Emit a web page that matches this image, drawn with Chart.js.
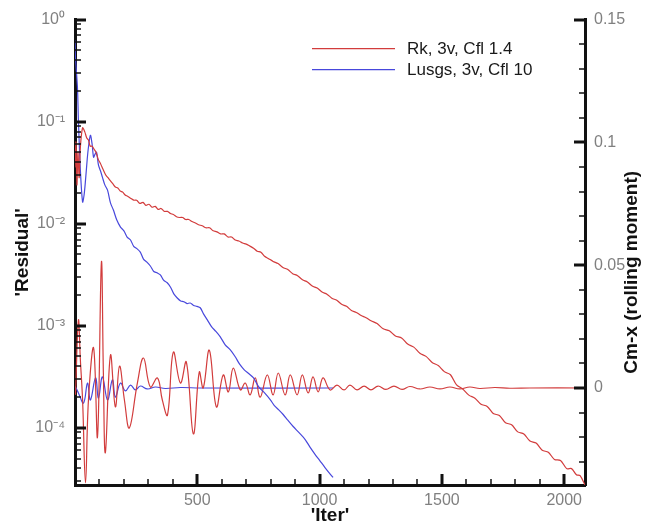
<!DOCTYPE html>
<html>
<head>
<meta charset="utf-8">
<script src="https://cdn.jsdelivr.net/npm/chart.js@4.4.0/dist/chart.umd.min.js"></script>
<style>
  html, body { margin: 0; padding: 0; background: #fff; }
  #wrap { width: 660px; height: 525px; }
</style>
</head>
<body>
<div id="wrap"><canvas id="residChart" width="660" height="525"></canvas></div>
<script>
// --- residual histories (left, log axis) ---
const rkIter = [0, 4, 8, 12, 17, 22, 31, 40, 48, 55, 62, 70, 78, 86, 95, 104, 115, 125, 135, 145,
    155, 165, 175, 185, 195, 205, 215, 227, 240, 252, 265, 278, 290, 302, 315, 328, 340, 352, 365, 378,
    390, 402, 415, 428, 440, 452, 465, 478, 490, 505, 520, 535, 550, 565, 580, 595, 610, 625, 640, 655,
    670, 685, 700, 715, 730, 745, 760, 775, 790, 810, 830, 850, 870, 890, 910, 930, 950, 970, 990, 1010,
    1030, 1050, 1070, 1090, 1110, 1130, 1150, 1170, 1190, 1210, 1235, 1260, 1285, 1310, 1335, 1360, 1385, 1410, 1435, 1460,
    1485, 1510, 1535, 1560, 1585, 1610, 1635, 1660, 1685, 1710, 1735, 1760, 1785, 1810, 1835, 1860, 1885, 1910, 1935, 1960,
    1985, 2010, 2030, 2050, 2065, 2085];
const rkResidual = [0.0355, 0.0631, 0.0240, 0.0501, 0.0282, 0.0562, 0.0871, 0.0794, 0.0692, 0.0661, 0.0575, 0.0575, 0.0537, 0.0501, 0.0427, 0.0389, 0.0339, 0.0302, 0.0282, 0.0263,
    0.0245, 0.0229, 0.0224, 0.0209, 0.0204, 0.0191, 0.0186, 0.0178, 0.0170, 0.0170, 0.0158, 0.0162, 0.0151, 0.0155, 0.0145, 0.0148, 0.0138, 0.0141, 0.0132, 0.0132,
    0.0126, 0.0123, 0.0117, 0.0115, 0.0115, 0.0110, 0.0110, 0.0105, 0.0102, 0.00977, 0.00955, 0.00912, 0.00912, 0.00851, 0.00832, 0.00794, 0.00794, 0.00741, 0.00741, 0.00692,
    0.00676, 0.00646, 0.00631, 0.00603, 0.00575, 0.00537, 0.00525, 0.00479, 0.00457, 0.00427, 0.00407, 0.00372, 0.00355, 0.00324, 0.00309, 0.00282, 0.00269, 0.00245, 0.00234, 0.00214,
    0.00204, 0.00186, 0.00178, 0.00162, 0.00155, 0.00141, 0.00135, 0.00126, 0.00120, 0.00112, 0.00105, 0.000933, 0.000891, 0.000794, 0.000759, 0.000661, 0.000617, 0.000537, 0.000501, 0.000437,
    0.000407, 0.000355, 0.000331, 0.000263, 0.000240, 0.000209, 0.000195, 0.000170, 0.000162, 0.000138, 0.000132, 0.000112, 0.000107, 0.0000912, 0.0000871, 0.0000741, 0.0000708, 0.0000603, 0.0000575, 0.0000490,
    0.0000479, 0.0000398, 0.0000398, 0.0000347, 0.0000339, 0.0000275];

const lusgsIter = [0, 2, 10, 14, 22, 31, 37, 43, 50, 55, 63, 70, 76, 82, 88, 96, 104, 112, 122, 133,
    145, 157, 170, 186, 200, 213, 227, 240, 253, 267, 280, 294, 308, 322, 336, 349, 362, 376, 390, 404,
    418, 432, 445, 458, 471, 485, 498, 512, 526, 541, 558, 576, 594, 614, 635, 655, 673, 692, 710, 729,
    752, 775, 798, 815, 833, 851, 871, 892, 915, 941, 960, 982, 1000, 1022, 1040, 1055];
const lusgsResidual = [0.624, 0.426, 0.216, 0.103, 0.0334, 0.0163, 0.0190, 0.0267, 0.0430, 0.0561, 0.0735, 0.0600, 0.0448, 0.0480, 0.0501, 0.0374, 0.0330, 0.0286, 0.0240, 0.0213,
    0.0160, 0.0136, 0.0110, 0.00927, 0.00850, 0.00740, 0.00692, 0.00600, 0.00570, 0.00527, 0.00450, 0.00420, 0.00385, 0.00340, 0.00330, 0.00315, 0.00280, 0.00265, 0.00240, 0.00205,
    0.00187, 0.00175, 0.00172, 0.00165, 0.00167, 0.00158, 0.00155, 0.00150, 0.00130, 0.00114, 0.000980, 0.000880, 0.000778, 0.000650, 0.000580, 0.000497, 0.000420, 0.000370, 0.000340, 0.000310,
    0.000250, 0.000220, 0.000189, 0.000165, 0.000150, 0.000135, 0.000118, 0.000103, 0.0000900, 0.0000767, 0.0000650, 0.0000547, 0.0000480, 0.0000408, 0.0000360, 0.0000326];

// --- rolling moment (right axis) ---
const rkCmIter = [2, 14, 22, 31, 43, 55, 76, 92, 108, 116, 124, 145, 165, 182, 202, 222, 255, 280, 308, 337,
    357, 378, 402, 431, 455, 484, 508, 524, 549, 578, 606, 627, 647, 676, 696, 716, 737, 757, 786, 810,
    831, 859, 880, 908, 929, 953, 973, 994, 1014, 1043, 1071, 1100, 1124, 1153, 1182, 1210, 1239, 1271, 1304, 1337,
    1369, 1410, 1451, 1492, 1533, 1573, 1614, 1655, 1716, 1778, 1859, 2085];
const rkCm = [-0.0028, 0.0276, 0.0114, -0.0049, -0.0386, -0.0049, 0.0163, -0.0199, 0.0512, 0.0061, -0.0264, 0.0134, -0.0077, 0.0089, -0.0049, -0.0163, 0.0020, 0.0122, 0.0004, 0.0041,
    -0.0049, -0.0110, 0.0146, 0.0020, 0.0106, -0.0187, 0.0065, 0.0000, 0.0154, -0.0077, 0.0053, -0.0016, 0.0081, -0.0008, 0.0020, -0.0028, 0.0041, -0.0037, 0.0053, -0.0028,
    0.0061, -0.0028, 0.0053, -0.0028, 0.0053, -0.0020, 0.0045, -0.0016, 0.0041, -0.0008, 0.0012, -0.0008, 0.0012, -0.0008, 0.0008, -0.0008, 0.0008, -0.0006, 0.0008, -0.0006,
    0.0006, -0.0004, 0.0004, -0.0004, 0.0004, -0.0004, 0.0004, -0.0002, 0.0002, -0.0001, 0, 0];

const lusgsCmIter = [0, 2, 14, 35, 51, 63, 84, 96, 112, 133, 153, 165, 186, 206, 227, 247, 267, 296, 329, 369, 431, 512, 1055];
const lusgsCm = [0, 0.0004, -0.0020, -0.0061, 0.0020, -0.0049, 0.0041, -0.0041, 0.0045, -0.0049, 0.0033, -0.0037, 0.0020, -0.0012, 0.0012, -0.0008, 0.0008, -0.0004, 0.0004, -0.0002, 0.0002, 0, 0];

// --- axes ---
const leftTickValues = [1, 0.1, 0.01, 0.001, 0.0001];
const leftTickLabels = ['10\u2070', '10\u207B\u00B9', '10\u207B\u00B2', '10\u207B\u00B3', '10\u207B\u2074'];
const rightTickValues = [0.15, 0.1, 0.05, 0];
const rightTickLabels = ['0.15', '0.1', '0.05', '0'];
const iterTickValues = [500, 1000, 1500, 2000];

const RED = '#d23c3c';
const BLUE = '#4848dc';
const tickFont = { family: "'Liberation Sans', Arial, sans-serif", size: 16 };

function toPoints(xs, ys) {
    return xs.map((x, i) => ({ x: x, y: ys[i] }));
}

// ticks drawn inward + right title + legend
const decorations = {
    id: 'decorations',
    afterDraw(chart) {
        const { ctx, chartArea: a, scales } = chart;
        ctx.save();
        ctx.strokeStyle = '#111';
        const tick = (x1, y1, x2, y2, w) => {
            ctx.lineWidth = w;
            ctx.beginPath(); ctx.moveTo(x1, y1); ctx.lineTo(x2, y2); ctx.stroke();
        };
        const ly = scales.y;
        for (let e = -5; e <= 0; e++) {
            for (let m = 1; m <= 9; m++) {
                const v = m * Math.pow(10, e);
                if (v < ly.min * 0.999 || v > ly.max * 1.001) continue;
                const p = Math.round(ly.getPixelForValue(v));
                if (m === 1) tick(a.left, p, a.left + 11, p, 3);
                else tick(a.left, p, a.left + 6, p, 1.5);
            }
        }
        const ry = scales.y1;
        for (let k = -3; k <= 15; k++) {
            const p = Math.round(ry.getPixelForValue(k / 100));
            if (k % 5 === 0) tick(a.right - 11, p, a.right, p, 3);
            else tick(a.right - 6, p, a.right, p, 1.5);
        }
        const xs = scales.x;
        for (let k = 1; k <= 20; k++) {
            const p = Math.round(xs.getPixelForValue(k * 100));
            if (k % 5 === 0) tick(p, a.bottom, p, a.bottom - 11, 3);
            else tick(p, a.bottom, p, a.bottom - 6, 1.5);
        }

        // right axis title reads bottom-to-top
        ctx.fillStyle = '#111';
        ctx.font = "bold 19px 'Liberation Sans', Arial, sans-serif";
        ctx.textAlign = 'center';
        ctx.textBaseline = 'middle';
        ctx.translate(a.right + 47, (a.top + a.bottom) / 2 + 20);
        ctx.rotate(-Math.PI / 2);
        ctx.fillText('Cm-x (rolling moment)', 0, 0);
        ctx.restore();

        // legend
        ctx.save();
        ctx.font = "17px 'Liberation Sans', Arial, sans-serif";
        ctx.textAlign = 'left';
        ctx.textBaseline = 'middle';
        [0, 1].forEach((di, row) => {
            const ds = chart.data.datasets[di];
            const y = a.top + 29 + row * 21;
            ctx.strokeStyle = ds.borderColor;
            ctx.lineWidth = 1.2;
            ctx.beginPath(); ctx.moveTo(a.left + 237, y); ctx.lineTo(a.left + 320, y); ctx.stroke();
            ctx.fillStyle = '#1a1a1a';
            ctx.fillText(ds.label, a.left + 332, y + 1);
        });
        ctx.restore();
    }
};

const ctx = document.getElementById('residChart').getContext('2d');
new Chart(ctx, {
    type: 'line',
    data: {
        datasets: [
            { label: 'Rk, 3v, Cfl 1.4', data: toPoints(rkIter, rkResidual), yAxisID: 'y', borderColor: RED, borderWidth: 1.2, pointRadius: 0, tension: 0.3 },
            { label: 'Lusgs, 3v, Cfl 10', data: toPoints(lusgsIter, lusgsResidual), yAxisID: 'y', borderColor: BLUE, borderWidth: 1.2, pointRadius: 0, tension: 0.3 },
            { label: 'Rk Cm-x', data: toPoints(rkCmIter, rkCm), yAxisID: 'y1', borderColor: RED, borderWidth: 1.2, pointRadius: 0, tension: 0.4 },
            { label: 'Lusgs Cm-x', data: toPoints(lusgsCmIter, lusgsCm), yAxisID: 'y1', borderColor: BLUE, borderWidth: 1.2, pointRadius: 0, tension: 0.4 }
        ]
    },
    options: {
        responsive: false,
        animation: false,
        layout: { padding: { top: 19, left: 0, right: 0, bottom: 0 } },
        plugins: { legend: { display: false }, tooltip: { enabled: false } },
        scales: {
            x: {
                type: 'linear', min: 0, max: 2085,
                grid: { drawOnChartArea: false, drawTicks: false },
                border: { display: true, width: 3, color: '#111' },
                ticks: {
                    stepSize: 100, includeBounds: false, autoSkip: false, maxRotation: 0, padding: 6,
                    color: '#808080', font: tickFont,
                    callback: v => iterTickValues.includes(v) ? String(v) : ''
                },
                title: { display: true, text: "'Iter'", color: '#111', font: { family: "'Liberation Sans', Arial, sans-serif", size: 19, weight: 'bold', lineHeight: 1 }, padding: { top: 0, bottom: 0 } },
                afterFit: s => { s.height = 40; }
            },
            y: {
                type: 'logarithmic', position: 'left', min: 2.75e-5, max: 1,
                grid: { drawOnChartArea: false, drawTicks: false },
                border: { display: true, width: 3, color: '#111' },
                ticks: {
                    autoSkip: false, padding: 10, color: '#808080', font: tickFont,
                    callback: v => {
                        const i = leftTickValues.findIndex(t => Math.abs(v / t - 1) < 1e-6);
                        return i >= 0 ? leftTickLabels[i] : '';
                    }
                },
                title: { display: true, text: "'Residual'", color: '#111', font: { family: "'Liberation Sans', Arial, sans-serif", size: 19, weight: 'bold' }, padding: { top: 11, bottom: 0 } },
                afterFit: s => { s.width = 75; }
            },
            y1: {
                type: 'linear', position: 'right', min: -0.0395, max: 0.15,
                grid: { drawOnChartArea: false, drawTicks: false },
                border: { display: true, width: 3, color: '#111' },
                ticks: {
                    stepSize: 0.01, includeBounds: false, autoSkip: false, padding: 9, color: '#808080', font: tickFont,
                    callback: v => {
                        const i = rightTickValues.findIndex(t => Math.abs(v - t) < 1e-7);
                        return i >= 0 ? rightTickLabels[i] : '';
                    }
                },
                afterFit: s => { s.width = 75; }
            }
        }
    },
    plugins: [decorations]
});
</script>
</body>
</html>
